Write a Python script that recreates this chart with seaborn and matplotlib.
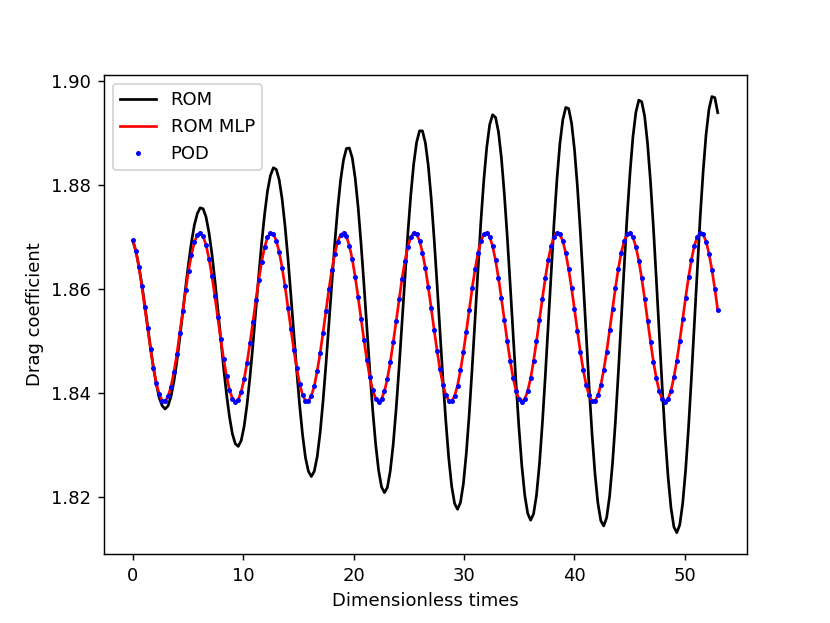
import numpy as np
import pandas as pd
import seaborn as sns
import matplotlib
matplotlib.use("Agg")
import matplotlib.pyplot as plt

# Sampling times (201 snapshots from 0 to 53)
times = np.linspace(0, 53, 201)

# ROM drag coefficient (growing oscillation)
rom = [
    1.8691, 1.8672, 1.8644, 1.8610, 1.8570, 1.8528, 1.8487, 1.8448, 1.8416, 1.8390,
    1.8375, 1.8369, 1.8375, 1.8393, 1.8422, 1.8460, 1.8505, 1.8554, 1.8603, 1.8649,
    1.8690, 1.8723, 1.8745, 1.8756, 1.8754, 1.8738, 1.8708, 1.8667, 1.8617, 1.8562,
    1.8504, 1.8448, 1.8397, 1.8354, 1.8321, 1.8302, 1.8297, 1.8308, 1.8335, 1.8377,
    1.8430, 1.8491, 1.8558, 1.8625, 1.8688, 1.8743, 1.8788, 1.8818, 1.8833, 1.8830,
    1.8810, 1.8773, 1.8721, 1.8659, 1.8588, 1.8514, 1.8442, 1.8376, 1.8319, 1.8275,
    1.8249, 1.8239, 1.8249, 1.8277, 1.8323, 1.8384, 1.8455, 1.8532, 1.8611, 1.8687,
    1.8754, 1.8809, 1.8848, 1.8870, 1.8871, 1.8852, 1.8813, 1.8757, 1.8687, 1.8608,
    1.8525, 1.8442, 1.8366, 1.8301, 1.8251, 1.8219, 1.8208, 1.8218, 1.8250, 1.8301,
    1.8369, 1.8448, 1.8534, 1.8622, 1.8706, 1.8780, 1.8840, 1.8882, 1.8904, 1.8904,
    1.8881, 1.8837, 1.8774, 1.8696, 1.8609, 1.8517, 1.8427, 1.8345, 1.8274, 1.8220,
    1.8187, 1.8176, 1.8189, 1.8225, 1.8284, 1.8359, 1.8448, 1.8543, 1.8640, 1.8731,
    1.8810, 1.8873, 1.8916, 1.8935, 1.8930, 1.8902, 1.8852, 1.8783, 1.8701, 1.8609,
    1.8513, 1.8419, 1.8333, 1.8259, 1.8203, 1.8168, 1.8155, 1.8167, 1.8203, 1.8262,
    1.8340, 1.8431, 1.8530, 1.8631, 1.8726, 1.8811, 1.8879, 1.8925, 1.8949, 1.8947,
    1.8919, 1.8868, 1.8797, 1.8710, 1.8613, 1.8511, 1.8412, 1.8321, 1.8245, 1.8188,
    1.8154, 1.8144, 1.8160, 1.8201, 1.8264, 1.8345, 1.8439, 1.8541, 1.8643, 1.8740,
    1.8824, 1.8893, 1.8940, 1.8963, 1.8960, 1.8932, 1.8879, 1.8806, 1.8717, 1.8617,
    1.8513, 1.8411, 1.8317, 1.8239, 1.8179, 1.8142, 1.8131, 1.8146, 1.8187, 1.8251,
    1.8333, 1.8430, 1.8534, 1.8639, 1.8739, 1.8826, 1.8897, 1.8946, 1.8970, 1.8968,
    1.8939,
]

# POD reference drag coefficient (ROM MLP follows it closely)
pod = [
    1.8694, 1.8673, 1.8643, 1.8606, 1.8566, 1.8525, 1.8484, 1.8448, 1.8418, 1.8397,
    1.8385, 1.8384, 1.8393, 1.8412, 1.8440, 1.8474, 1.8515, 1.8557, 1.8597, 1.8635,
    1.8666, 1.8690, 1.8704, 1.8708, 1.8701, 1.8684, 1.8658, 1.8625, 1.8586, 1.8545,
    1.8503, 1.8465, 1.8432, 1.8406, 1.8389, 1.8383, 1.8387, 1.8402, 1.8426, 1.8458,
    1.8495, 1.8536, 1.8578, 1.8617, 1.8652, 1.8680, 1.8699, 1.8707, 1.8706, 1.8693,
    1.8671, 1.8641, 1.8605, 1.8564, 1.8523, 1.8483, 1.8447, 1.8417, 1.8396, 1.8385,
    1.8384, 1.8394, 1.8413, 1.8442, 1.8476, 1.8516, 1.8558, 1.8599, 1.8636, 1.8667,
    1.8691, 1.8704, 1.8708, 1.8701, 1.8683, 1.8657, 1.8623, 1.8584, 1.8543, 1.8502,
    1.8463, 1.8430, 1.8405, 1.8389, 1.8383, 1.8388, 1.8403, 1.8427, 1.8459, 1.8497,
    1.8538, 1.8580, 1.8619, 1.8653, 1.8681, 1.8699, 1.8708, 1.8705, 1.8693, 1.8670,
    1.8640, 1.8603, 1.8563, 1.8521, 1.8481, 1.8445, 1.8416, 1.8396, 1.8385, 1.8384,
    1.8394, 1.8414, 1.8443, 1.8478, 1.8518, 1.8560, 1.8601, 1.8638, 1.8669, 1.8692,
    1.8705, 1.8708, 1.8700, 1.8682, 1.8655, 1.8621, 1.8582, 1.8541, 1.8500, 1.8462,
    1.8429, 1.8404, 1.8388, 1.8383, 1.8388, 1.8404, 1.8428, 1.8461, 1.8499, 1.8540,
    1.8581, 1.8620, 1.8655, 1.8682, 1.8700, 1.8708, 1.8705, 1.8692, 1.8669, 1.8638,
    1.8601, 1.8561, 1.8519, 1.8479, 1.8444, 1.8415, 1.8395, 1.8384, 1.8384, 1.8395,
    1.8415, 1.8444, 1.8479, 1.8520, 1.8562, 1.8602, 1.8639, 1.8670, 1.8692, 1.8705,
    1.8708, 1.8699, 1.8681, 1.8654, 1.8620, 1.8581, 1.8539, 1.8498, 1.8460, 1.8428,
    1.8403, 1.8388, 1.8383, 1.8389, 1.8404, 1.8430, 1.8462, 1.8500, 1.8542, 1.8583,
    1.8622, 1.8656, 1.8683, 1.8700, 1.8708, 1.8705, 1.8691, 1.8668, 1.8637, 1.8600,
    1.8559,
]
rom_mlp = pod

df = pd.DataFrame({"t": times, "rom": rom, "rom_mlp": rom_mlp, "pod": pod})

fig, ax = plt.subplots(figsize=(830 / 130, 623 / 130), dpi=130)

sns.lineplot(x="t", y="rom", data=df, ax=ax, color="black", label="ROM", linewidth=1.5)
sns.lineplot(x="t", y="rom_mlp", data=df, ax=ax, color="red", label="ROM MLP", linewidth=1.5)
ax.plot(df["t"], df["pod"], ".", color="blue", markersize=3.5, label="POD")

ax.set_xlabel("Dimensionless times")
ax.set_ylabel("Drag coefficient")
ax.set_yticks([1.82, 1.84, 1.86, 1.88, 1.90])
ax.legend(loc="upper left")

plt.savefig("out.png", dpi=130)
